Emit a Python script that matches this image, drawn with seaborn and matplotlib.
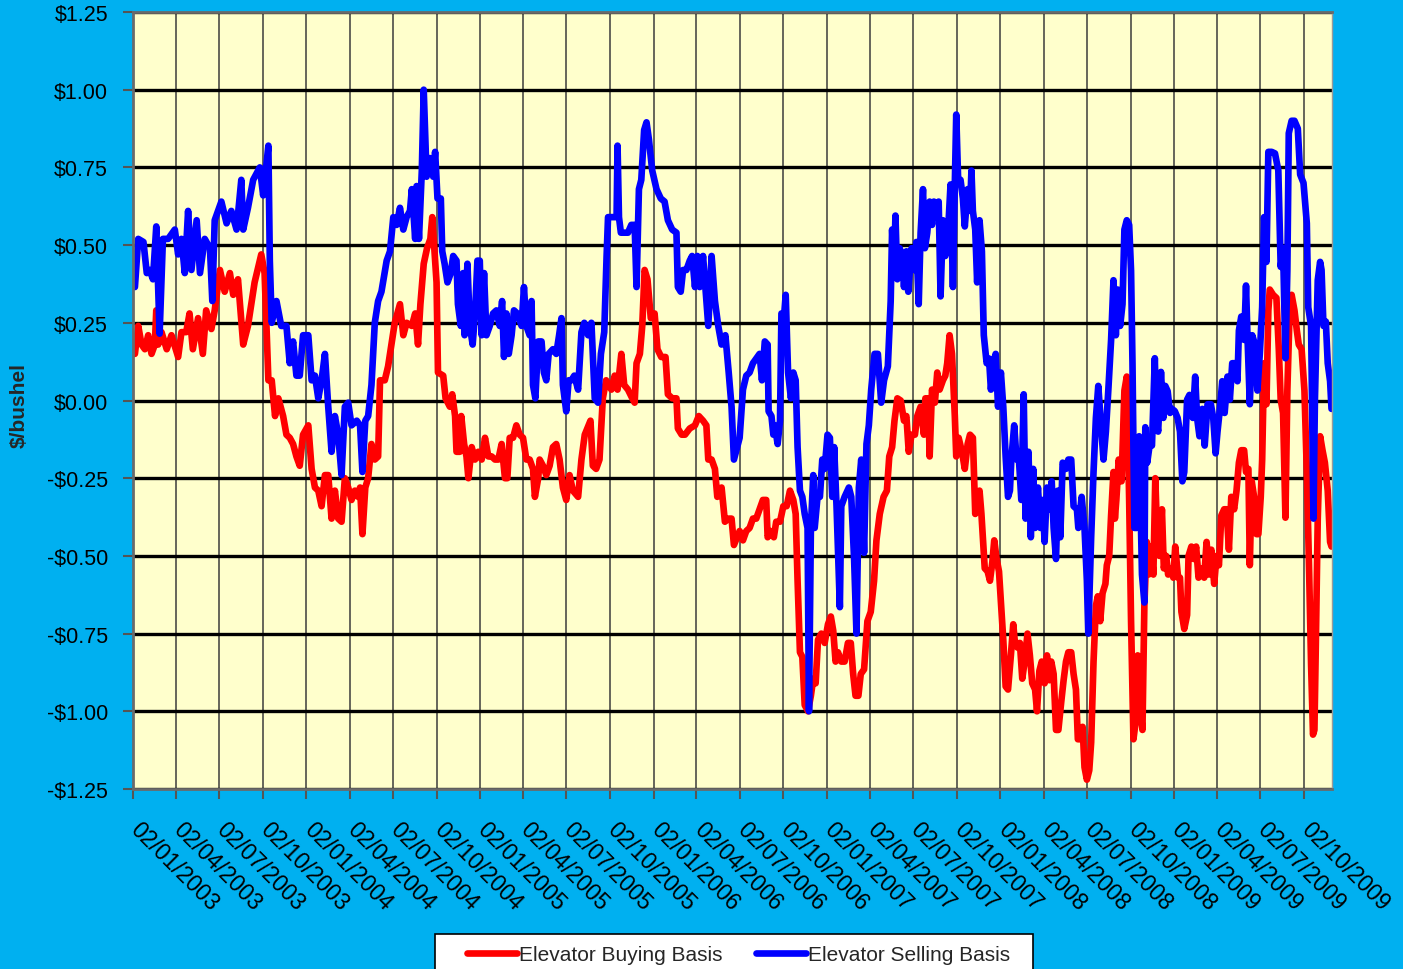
import matplotlib
matplotlib.use("Agg")
import matplotlib.pyplot as plt
from matplotlib.patches import Rectangle
from matplotlib.lines import Line2D
from matplotlib.transforms import ScaledTranslation
import seaborn as sns
import pandas as pd

# ---------------- data ----------------
series_names = ["Elevator Buying Basis", "Elevator Selling Basis"]
series_colors = ["#FF0000", "#0000FF"]

buying_dates = [
    "2003-01-06", "2003-01-13", "2003-01-20", "2003-01-27", "2003-02-03", "2003-02-10", "2003-02-17", "2003-02-20",
    "2003-02-24", "2003-03-03", "2003-03-14", "2003-03-24", "2003-04-07", "2003-04-14", "2003-04-24", "2003-05-01",
    "2003-05-08", "2003-05-19", "2003-05-29", "2003-06-05", "2003-06-16", "2003-06-23", "2003-07-04", "2003-07-14",
    "2003-07-25", "2003-08-01", "2003-08-11", "2003-08-22", "2003-09-01", "2003-09-15", "2003-09-29", "2003-10-06",
    "2003-10-14", "2003-10-21", "2003-10-28", "2003-11-04", "2003-11-14", "2003-11-21", "2003-11-28", "2003-12-05",
    "2003-12-12", "2003-12-19", "2003-12-26", "2004-01-06", "2004-01-13", "2004-01-20", "2004-01-27", "2004-02-03",
    "2004-02-10", "2004-02-17", "2004-02-24", "2004-03-02", "2004-03-09", "2004-03-16", "2004-03-23", "2004-03-30",
    "2004-04-06", "2004-04-13", "2004-04-20", "2004-04-24", "2004-04-29", "2004-05-05", "2004-05-11", "2004-05-18",
    "2004-05-25", "2004-06-01", "2004-06-05", "2004-06-15", "2004-06-22", "2004-06-29", "2004-07-06", "2004-07-17",
    "2004-07-24", "2004-07-31", "2004-08-11", "2004-08-18", "2004-08-24", "2004-08-29", "2004-09-05", "2004-09-12",
    "2004-09-19", "2004-09-23", "2004-10-02", "2004-10-05", "2004-10-16", "2004-10-21", "2004-10-30", "2004-11-04",
    "2004-11-10", "2004-11-13", "2004-11-20", "2004-11-23", "2004-11-29", "2004-12-04", "2004-12-08", "2004-12-15",
    "2004-12-22", "2004-12-29", "2005-01-05", "2005-01-12", "2005-01-19", "2005-01-26", "2005-02-02", "2005-02-09",
    "2005-02-16", "2005-02-23", "2005-02-28", "2005-03-05", "2005-03-12", "2005-03-19", "2005-03-26", "2005-04-02",
    "2005-04-09", "2005-04-16", "2005-04-23", "2005-04-27", "2005-05-04", "2005-05-07", "2005-05-14", "2005-05-21",
    "2005-05-28", "2005-06-04", "2005-06-11", "2005-06-18", "2005-06-25", "2005-07-02", "2005-07-09", "2005-07-16",
    "2005-07-27", "2005-08-03", "2005-08-10", "2005-08-22", "2005-08-27", "2005-09-03", "2005-09-10", "2005-09-17",
    "2005-09-24", "2005-10-05", "2005-10-12", "2005-10-18", "2005-10-26", "2005-11-01", "2005-11-09", "2005-11-18",
    "2005-11-23", "2005-11-27", "2005-12-04", "2005-12-09", "2005-12-14", "2005-12-20", "2005-12-27", "2006-01-04",
    "2006-01-10", "2006-01-18", "2006-01-27", "2006-02-01", "2006-02-10", "2006-02-19", "2006-02-22", "2006-03-02",
    "2006-03-09", "2006-03-19", "2006-03-30", "2006-04-07", "2006-04-16", "2006-04-23", "2006-04-27", "2006-05-04",
    "2006-05-11", "2006-05-16", "2006-05-25", "2006-06-01", "2006-06-09", "2006-06-15", "2006-06-20", "2006-07-02",
    "2006-07-09", "2006-07-16", "2006-07-23", "2006-07-30", "2006-08-06", "2006-08-13", "2006-08-20", "2006-08-27",
    "2006-08-30", "2006-09-05", "2006-09-12", "2006-09-17", "2006-09-25", "2006-10-02", "2006-10-09", "2006-10-16",
    "2006-10-23", "2006-10-28", "2006-11-01", "2006-11-06", "2006-11-11", "2006-11-16", "2006-11-23", "2006-11-29",
    "2006-12-04", "2006-12-09", "2006-12-14", "2006-12-21", "2006-12-28", "2007-01-04", "2007-01-10", "2007-01-15",
    "2007-01-20", "2007-01-25", "2007-02-01", "2007-02-08", "2007-02-15", "2007-02-21", "2007-02-26", "2007-03-03",
    "2007-03-09", "2007-03-14", "2007-03-21", "2007-03-28", "2007-04-04", "2007-04-11", "2007-04-16", "2007-04-23",
    "2007-05-01", "2007-05-08", "2007-05-13", "2007-05-19", "2007-05-24", "2007-05-30", "2007-06-06", "2007-06-13",
    "2007-06-18", "2007-06-23", "2007-06-29", "2007-07-06", "2007-07-11", "2007-07-18", "2007-07-25", "2007-07-28",
    "2007-08-03", "2007-08-06", "2007-08-11", "2007-08-17", "2007-08-22", "2007-08-27", "2007-09-03", "2007-09-08",
    "2007-09-12", "2007-09-17", "2007-09-22", "2007-09-28", "2007-10-01", "2007-10-06", "2007-10-13", "2007-10-19",
    "2007-10-25", "2007-10-30", "2007-11-05", "2007-11-10", "2007-11-14", "2007-11-19", "2007-11-23", "2007-11-30",
    "2007-12-06", "2007-12-11", "2007-12-16", "2007-12-20", "2007-12-25", "2007-12-30", "2008-01-03", "2008-01-08",
    "2008-01-13", "2008-01-18", "2008-01-24", "2008-01-29", "2008-02-01", "2008-02-07", "2008-02-12", "2008-02-17",
    "2008-02-22", "2008-02-28", "2008-03-04", "2008-03-09", "2008-03-15", "2008-03-19", "2008-03-24", "2008-03-29",
    "2008-04-04", "2008-04-09", "2008-04-14", "2008-04-18", "2008-04-23", "2008-04-28", "2008-05-03", "2008-05-09",
    "2008-05-14", "2008-05-19", "2008-05-24", "2008-05-30", "2008-06-04", "2008-06-09", "2008-06-13", "2008-06-18",
    "2008-06-23", "2008-06-27", "2008-07-02", "2008-07-07", "2008-07-11", "2008-07-16", "2008-07-21", "2008-07-25",
    "2008-07-30", "2008-08-04", "2008-08-10", "2008-08-13", "2008-08-18", "2008-08-22", "2008-08-27", "2008-08-30",
    "2008-09-02", "2008-09-07", "2008-09-13", "2008-09-19", "2008-09-24", "2008-09-29", "2008-10-03", "2008-10-08",
    "2008-10-13", "2008-10-17", "2008-10-22", "2008-10-27", "2008-10-31", "2008-11-05", "2008-11-09", "2008-11-14",
    "2008-11-19", "2008-11-23", "2008-11-28", "2008-12-02", "2008-12-07", "2008-12-11", "2008-12-16", "2008-12-20",
    "2008-12-26", "2008-12-31", "2009-01-04", "2009-01-10", "2009-01-14", "2009-01-17", "2009-01-23", "2009-01-29",
    "2009-02-01", "2009-02-07", "2009-02-12", "2009-02-17", "2009-02-22", "2009-02-28", "2009-03-06", "2009-03-11",
    "2009-03-16", "2009-03-21", "2009-03-27", "2009-04-01", "2009-04-06", "2009-04-11", "2009-04-17", "2009-04-22",
    "2009-04-27", "2009-05-02", "2009-05-08", "2009-05-13", "2009-05-18", "2009-05-23", "2009-05-29", "2009-06-02",
    "2009-06-07", "2009-06-10", "2009-06-14", "2009-06-19", "2009-06-24", "2009-06-28", "2009-07-03", "2009-07-06",
    "2009-07-10", "2009-07-15", "2009-07-19", "2009-07-22", "2009-07-29", "2009-08-05", "2009-08-10", "2009-08-14",
    "2009-08-19", "2009-08-24", "2009-08-28", "2009-09-02", "2009-09-06", "2009-09-12", "2009-09-17", "2009-09-21",
    "2009-09-27", "2009-10-03", "2009-10-08", "2009-10-13", "2009-10-17", "2009-10-21", "2009-10-24", "2009-10-27",
    "2009-10-31", "2009-11-05", "2009-11-10", "2009-11-15", "2009-11-21", "2009-11-26", "2009-11-29",
]
buying_values = [
    0.15, 0.24, 0.18, 0.165, 0.21, 0.15, 0.18, 0.29,
    0.18, 0.22, 0.165, 0.21, 0.14, 0.22, 0.22, 0.28,
    0.165, 0.265, 0.15, 0.29, 0.23, 0.29, 0.42, 0.35,
    0.41, 0.34, 0.39, 0.18, 0.24, 0.38, 0.47, 0.41,
    0.065, 0.065, -0.05, 0.007, -0.05, -0.11, -0.12, -0.14,
    -0.18, -0.21, -0.11, -0.08, -0.22, -0.28, -0.29, -0.34,
    -0.24, -0.24, -0.38, -0.29, -0.38, -0.39, -0.25, -0.28,
    -0.32, -0.29, -0.31, -0.28, -0.43, -0.28, -0.25, -0.14,
    -0.19, -0.18, 0.065, 0.065, 0.11, 0.18, 0.25, 0.31,
    0.21, 0.25, 0.24, 0.28, 0.18, 0.31, 0.44, 0.49,
    0.52, 0.59, 0.38, 0.09, 0.08, 0.007, -0.02, 0.02,
    -0.05, -0.165, -0.165, -0.05, -0.14, -0.18, -0.25, -0.15,
    -0.19, -0.165, -0.19, -0.12, -0.18, -0.18, -0.19, -0.19,
    -0.14, -0.25, -0.25, -0.12, -0.12, -0.08, -0.11, -0.12,
    -0.19, -0.19, -0.22, -0.31, -0.25, -0.19, -0.21, -0.24,
    -0.21, -0.15, -0.14, -0.19, -0.28, -0.32, -0.24, -0.29,
    -0.31, -0.19, -0.11, -0.065, -0.21, -0.22, -0.19, 0.007,
    0.065, 0.035, 0.08, 0.035, 0.15, 0.05, 0.035, 0.007,
    -0.007, 0.12, 0.15, 0.24, 0.42, 0.39, 0.265, 0.28,
    0.165, 0.14, 0.14, 0.02, 0.007, 0.007, -0.09, -0.11,
    -0.11, -0.09, -0.08, -0.05, -0.065, -0.08, -0.19, -0.19,
    -0.22, -0.31, -0.28, -0.39, -0.38, -0.38, -0.465, -0.42,
    -0.45, -0.42, -0.41, -0.38, -0.38, -0.35, -0.32, -0.32,
    -0.44, -0.42, -0.44, -0.39, -0.39, -0.34, -0.34, -0.29,
    -0.32, -0.365, -0.58, -0.81, -0.825, -0.98, -1.0, -0.95,
    -0.895, -0.91, -0.77, -0.75, -0.78, -0.72, -0.695, -0.74,
    -0.84, -0.81, -0.84, -0.84, -0.78, -0.78, -0.88, -0.95,
    -0.95, -0.88, -0.865, -0.71, -0.68, -0.58, -0.45, -0.365,
    -0.31, -0.29, -0.18, -0.15, -0.065, 0.007, 0.0, -0.065,
    -0.05, -0.165, -0.11, -0.11, -0.05, -0.02, -0.11, 0.007,
    0.007, -0.18, 0.035, -0.007, 0.09, 0.035, 0.065, 0.08,
    0.12, 0.21, 0.15, -0.05, -0.18, -0.12, -0.165, -0.22,
    -0.14, -0.11, -0.12, -0.365, -0.31, -0.29, -0.365, -0.54,
    -0.55, -0.58, -0.52, -0.45, -0.51, -0.55, -0.65, -0.77,
    -0.92, -0.93, -0.82, -0.72, -0.77, -0.795, -0.78, -0.895,
    -0.84, -0.75, -0.82, -0.91, -0.93, -1.0, -0.87, -0.84,
    -0.91, -0.82, -0.90, -0.84, -0.88, -1.06, -1.06, -0.97,
    -0.90, -0.84, -0.81, -0.81, -0.88, -0.93, -1.09, -1.09,
    -1.05, -1.18, -1.22, -1.19, -1.10, -0.84, -0.66, -0.63,
    -0.71, -0.62, -0.59, -0.53, -0.50, -0.37, -0.23, -0.38,
    -0.32, -0.19, -0.26, 0.032, 0.077, -0.32, -0.71, -1.09,
    -1.03, -0.82, -0.985, -1.06, -0.66, -0.455, -0.56, -0.47,
    -0.56, -0.25, -0.48, -0.50, -0.35, -0.54, -0.50, -0.56,
    -0.54, -0.57, -0.47, -0.57, -0.57, -0.68, -0.735, -0.69,
    -0.50, -0.47, -0.51, -0.47, -0.57, -0.54, -0.57, -0.455,
    -0.56, -0.48, -0.59, -0.50, -0.53, -0.37, -0.35, -0.35,
    -0.48, -0.31, -0.35, -0.29, -0.20, -0.16, -0.16, -0.23,
    -0.22, -0.53, -0.26, -0.31, -0.43, -0.43, -0.31, -0.19,
    0.12, -0.012, 0.29, 0.357, 0.34, 0.33, 0.165, 0.003,
    -0.04, -0.377, 0.032, 0.30, 0.34, 0.29, 0.225, 0.18,
    0.165, 0.032, -0.23, -0.56, -0.85, -1.075, -1.06, -0.78,
    -0.38, -0.115, -0.16, -0.20, -0.29, -0.455, -0.47,
]

selling_dates = [
    "2003-01-06", "2003-01-13", "2003-01-24", "2003-01-31", "2003-02-06", "2003-02-13", "2003-02-20", "2003-02-27",
    "2003-03-06", "2003-03-17", "2003-03-31", "2003-04-07", "2003-04-14", "2003-04-21", "2003-04-28", "2003-05-05",
    "2003-05-16", "2003-05-23", "2003-06-02", "2003-06-13", "2003-06-18", "2003-06-23", "2003-07-07", "2003-07-18",
    "2003-07-28", "2003-08-08", "2003-08-18", "2003-08-22", "2003-09-01", "2003-09-12", "2003-09-26", "2003-10-03",
    "2003-10-14", "2003-10-17", "2003-10-21", "2003-10-31", "2003-11-10", "2003-11-21", "2003-11-28", "2003-12-05",
    "2003-12-12", "2003-12-19", "2003-12-26", "2004-01-06", "2004-01-13", "2004-01-20", "2004-01-27", "2004-02-03",
    "2004-02-10", "2004-02-17", "2004-02-24", "2004-03-02", "2004-03-09", "2004-03-16", "2004-03-23", "2004-03-30",
    "2004-04-06", "2004-04-17", "2004-04-24", "2004-04-29", "2004-05-05", "2004-05-11", "2004-05-18", "2004-05-25",
    "2004-06-01", "2004-06-08", "2004-06-19", "2004-06-26", "2004-07-03", "2004-07-10", "2004-07-17", "2004-07-24",
    "2004-07-31", "2004-08-07", "2004-08-11", "2004-08-18", "2004-08-21", "2004-08-26", "2004-09-01", "2004-09-05",
    "2004-09-11", "2004-09-18", "2004-09-25", "2004-09-29", "2004-10-04", "2004-10-11", "2004-10-14", "2004-10-19",
    "2004-10-25", "2004-11-01", "2004-11-06", "2004-11-13", "2004-11-16", "2004-11-22", "2004-11-27", "2004-11-30",
    "2004-12-06", "2004-12-11", "2004-12-17", "2004-12-22", "2004-12-27", "2005-01-01", "2005-01-05", "2005-01-10",
    "2005-01-15", "2005-01-22", "2005-01-29", "2005-02-05", "2005-02-12", "2005-02-17", "2005-02-21", "2005-02-26",
    "2005-03-03", "2005-03-09", "2005-03-14", "2005-03-21", "2005-03-30", "2005-04-04", "2005-04-09", "2005-04-16",
    "2005-04-20", "2005-04-23", "2005-04-28", "2005-05-04", "2005-05-11", "2005-05-16", "2005-05-21", "2005-05-26",
    "2005-06-04", "2005-06-11", "2005-06-17", "2005-06-22", "2005-06-25", "2005-07-02", "2005-07-07", "2005-07-13",
    "2005-07-19", "2005-07-27", "2005-08-03", "2005-08-09", "2005-08-17", "2005-08-24", "2005-08-31", "2005-09-07",
    "2005-09-13", "2005-09-20", "2005-09-25", "2005-09-28", "2005-10-09", "2005-10-16", "2005-10-18", "2005-10-21",
    "2005-10-25", "2005-11-02", "2005-11-09", "2005-11-16", "2005-11-23", "2005-11-27", "2005-12-02", "2005-12-07",
    "2005-12-13", "2005-12-18", "2005-12-23", "2005-12-30", "2006-01-08", "2006-01-17", "2006-01-25", "2006-02-01",
    "2006-02-10", "2006-02-19", "2006-02-22", "2006-02-28", "2006-03-05", "2006-03-12", "2006-03-19", "2006-03-24",
    "2006-03-30", "2006-04-04", "2006-04-09", "2006-04-16", "2006-04-23", "2006-04-27", "2006-05-04", "2006-05-11",
    "2006-05-18", "2006-05-25", "2006-06-02", "2006-06-09", "2006-06-15", "2006-06-20", "2006-07-02", "2006-07-09",
    "2006-07-16", "2006-07-23", "2006-07-30", "2006-08-06", "2006-08-13", "2006-08-18", "2006-08-24", "2006-08-30",
    "2006-09-01", "2006-09-07", "2006-09-11", "2006-09-14", "2006-09-20", "2006-09-25", "2006-09-28", "2006-10-04",
    "2006-10-07", "2006-10-12", "2006-10-18", "2006-10-23", "2006-10-28", "2006-11-01", "2006-11-06", "2006-11-11",
    "2006-11-16", "2006-11-22", "2006-11-25", "2006-11-29", "2006-12-04", "2006-12-07", "2006-12-13", "2006-12-18",
    "2006-12-23", "2006-12-28", "2007-01-03", "2007-01-08", "2007-01-13", "2007-01-17", "2007-01-22", "2007-01-29",
    "2007-02-01", "2007-02-08", "2007-02-17", "2007-02-22", "2007-02-28", "2007-03-05", "2007-03-10", "2007-03-15",
    "2007-03-21", "2007-03-26", "2007-03-31", "2007-04-05", "2007-04-12", "2007-04-19", "2007-04-26", "2007-05-02",
    "2007-05-10", "2007-05-16", "2007-05-19", "2007-05-23", "2007-05-26", "2007-05-30", "2007-06-04", "2007-06-09",
    "2007-06-13", "2007-06-18", "2007-06-22", "2007-06-29", "2007-07-04", "2007-07-09", "2007-07-14", "2007-07-18",
    "2007-07-23", "2007-07-27", "2007-08-01", "2007-08-06", "2007-08-11", "2007-08-15", "2007-08-20", "2007-08-25",
    "2007-08-29", "2007-09-03", "2007-09-08", "2007-09-14", "2007-09-19", "2007-09-24", "2007-09-28", "2007-10-01",
    "2007-10-05", "2007-10-10", "2007-10-15", "2007-10-19", "2007-10-25", "2007-10-30", "2007-11-02", "2007-11-05",
    "2007-11-10", "2007-11-14", "2007-11-19", "2007-11-24", "2007-11-28", "2007-12-04", "2007-12-09", "2007-12-13",
    "2007-12-18", "2007-12-23", "2007-12-28", "2008-01-03", "2008-01-08", "2008-01-13", "2008-01-18", "2008-01-22",
    "2008-01-25", "2008-01-31", "2008-02-05", "2008-02-10", "2008-02-15", "2008-02-20", "2008-02-24", "2008-03-01",
    "2008-03-06", "2008-03-11", "2008-03-15", "2008-03-21", "2008-03-26", "2008-03-31", "2008-04-04", "2008-04-09",
    "2008-04-14", "2008-04-19", "2008-04-23", "2008-04-28", "2008-05-02", "2008-05-07", "2008-05-12", "2008-05-19",
    "2008-05-24", "2008-05-30", "2008-06-04", "2008-06-11", "2008-06-14", "2008-06-21", "2008-06-27", "2008-07-02",
    "2008-07-05", "2008-07-11", "2008-07-16", "2008-07-21", "2008-07-26", "2008-08-01", "2008-08-06", "2008-08-11",
    "2008-08-16", "2008-08-22", "2008-08-27", "2008-09-01", "2008-09-05", "2008-09-10", "2008-09-15", "2008-09-19",
    "2008-09-24", "2008-09-29", "2008-10-03", "2008-10-06", "2008-10-10", "2008-10-15", "2008-10-20", "2008-10-26",
    "2008-10-31", "2008-11-02", "2008-11-06", "2008-11-11", "2008-11-16", "2008-11-22", "2008-11-25", "2008-11-29",
    "2008-12-05", "2008-12-10", "2008-12-14", "2008-12-19", "2008-12-24", "2008-12-28", "2009-01-03", "2009-01-09",
    "2009-01-14", "2009-01-19", "2009-01-23", "2009-01-29", "2009-02-03", "2009-02-10", "2009-02-15", "2009-02-19",
    "2009-02-24", "2009-03-02", "2009-03-07", "2009-03-13", "2009-03-20", "2009-03-25", "2009-03-30", "2009-04-03",
    "2009-04-08", "2009-04-13", "2009-04-18", "2009-04-24", "2009-04-29", "2009-05-04", "2009-05-09", "2009-05-15",
    "2009-05-18", "2009-05-23", "2009-05-29", "2009-06-02", "2009-06-05", "2009-06-10", "2009-06-15", "2009-06-21",
    "2009-06-26", "2009-07-01", "2009-07-06", "2009-07-10", "2009-07-15", "2009-07-19", "2009-07-26", "2009-08-02",
    "2009-08-09", "2009-08-14", "2009-08-19", "2009-08-24", "2009-08-28", "2009-08-31", "2009-09-06", "2009-09-12",
    "2009-09-19", "2009-09-24", "2009-10-01", "2009-10-08", "2009-10-11", "2009-10-17", "2009-10-22", "2009-10-25",
    "2009-10-31", "2009-11-05", "2009-11-08", "2009-11-12", "2009-11-17", "2009-11-21", "2009-11-26", "2009-11-29",
]
selling_values = [
    0.365, 0.52, 0.51, 0.41, 0.42, 0.39, 0.56, 0.215,
    0.52, 0.52, 0.55, 0.47, 0.52, 0.41, 0.61, 0.42,
    0.58, 0.41, 0.52, 0.49, 0.32, 0.58, 0.64, 0.57,
    0.61, 0.55, 0.71, 0.55, 0.62, 0.71, 0.75, 0.66,
    0.82, 0.45, 0.25, 0.32, 0.24, 0.24, 0.12, 0.19,
    0.08, 0.08, 0.21, 0.21, 0.065, 0.08, 0.007, 0.065,
    0.15, -0.02, -0.165, -0.05, -0.11, -0.24, -0.02, -0.007,
    -0.08, -0.065, -0.08, -0.23, -0.065, -0.05, 0.05, 0.25,
    0.32, 0.35, 0.45, 0.48, 0.59, 0.565, 0.62, 0.55,
    0.59, 0.61, 0.68, 0.52, 0.69, 0.52, 0.74, 1.00,
    0.72, 0.78, 0.72, 0.80, 0.65, 0.65, 0.48, 0.44,
    0.38, 0.41, 0.465, 0.45, 0.31, 0.24, 0.41, 0.21,
    0.44, 0.24, 0.18, 0.28, 0.45, 0.45, 0.21, 0.41,
    0.21, 0.24, 0.28, 0.29, 0.24, 0.32, 0.14, 0.28,
    0.15, 0.21, 0.29, 0.28, 0.24, 0.365, 0.24, 0.21,
    0.32, 0.05, 0.007, 0.19, 0.19, 0.09, 0.065, 0.15,
    0.165, 0.15, 0.21, 0.265, 0.05, -0.035, 0.065, 0.065,
    0.08, 0.035, 0.22, 0.25, 0.21, 0.25, 0.007, -0.007,
    0.15, 0.22, 0.465, 0.59, 0.59, 0.59, 0.82, 0.59,
    0.54, 0.54, 0.54, 0.565, 0.565, 0.365, 0.68, 0.71,
    0.87, 0.895, 0.84, 0.74, 0.68, 0.65, 0.64, 0.58,
    0.55, 0.54, 0.365, 0.35, 0.42, 0.42, 0.45, 0.465,
    0.365, 0.465, 0.365, 0.465, 0.32, 0.24, 0.465, 0.32,
    0.24, 0.18, 0.21, 0.09, -0.02, -0.19, -0.12, 0.035,
    0.08, 0.09, 0.12, 0.135, 0.15, 0.065, 0.19, 0.18,
    -0.035, -0.05, -0.11, -0.08, -0.14, -0.065, 0.28, 0.28,
    0.34, 0.09, 0.007, 0.09, 0.065, -0.15, -0.29, -0.31,
    -0.365, -0.41, -1.0, -0.41, -0.24, -0.41, -0.31, -0.31,
    -0.19, -0.22, -0.11, -0.12, -0.31, -0.15, -0.34, -0.665,
    -0.34, -0.31, -0.28, -0.31, -0.51, -0.75, -0.28, -0.19,
    -0.49, -0.14, -0.08, 0.035, 0.15, 0.15, -0.007, 0.065,
    0.11, 0.32, 0.55, 0.41, 0.595, 0.39, 0.49, 0.465,
    0.365, 0.48, 0.35, 0.49, 0.42, 0.51, 0.31, 0.54,
    0.68, 0.49, 0.54, 0.64, 0.565, 0.64, 0.595, 0.64,
    0.335, 0.58, 0.465, 0.55, 0.695, 0.365, 0.695, 0.92,
    0.71, 0.71, 0.65, 0.56, 0.68, 0.61, 0.74, 0.61,
    0.55, 0.38, 0.58, 0.48, 0.21, 0.12, 0.135, 0.035,
    0.12, 0.15, -0.02, 0.09, -0.02, -0.18, -0.31, -0.29,
    -0.19, -0.08, -0.19, -0.19, -0.32, 0.02, -0.38, -0.165,
    -0.44, -0.22, -0.41, -0.28, -0.41, -0.32, -0.455, -0.28,
    -0.35, -0.26, -0.41, -0.51, -0.29, -0.44, -0.20, -0.22,
    -0.19, -0.19, -0.34, -0.35, -0.41, -0.31, -0.41, -0.58,
    -0.75, -0.44, -0.23, -0.056, 0.047, -0.086, -0.19, -0.10,
    0.03, 0.195, 0.387, 0.21, 0.357, 0.24, 0.31, 0.55,
    0.58, 0.565, 0.417, 0.12, -0.41, -0.41, -0.115, -0.56,
    -0.65, -0.086, -0.20, -0.145, -0.145, 0.136, -0.056, -0.10,
    0.092, -0.056, 0.047, 0.03, -0.04, -0.027, -0.034, -0.056,
    -0.10, -0.26, -0.23, 0.003, 0.018, -0.056, 0.077, -0.056,
    -0.115, -0.027, -0.145, -0.012, -0.012, -0.056, -0.17, -0.10,
    -0.027, 0.062, -0.04, 0.077, 0.003, 0.12, 0.12, 0.062,
    0.225, 0.27, 0.195, 0.37, 0.21, -0.012, 0.21, 0.18,
    0.032, 0.15, 0.30, 0.59, 0.446, 0.80, 0.80, 0.795,
    0.74, 0.43, 0.49, 0.136, 0.417, 0.86, 0.90, 0.90,
    0.875, 0.727, 0.70, 0.57, 0.30, 0.24, -0.38, 0.0,
    0.387, 0.446, 0.42, 0.24, 0.254, 0.12, 0.062, -0.027,
]

x_tick_labels = [
    "02/01/2003", "02/04/2003", "02/07/2003", "02/10/2003",
    "02/01/2004", "02/04/2004", "02/07/2004", "02/10/2004",
    "02/01/2005", "02/04/2005", "02/07/2005", "02/10/2005",
    "02/01/2006", "02/04/2006", "02/07/2006", "02/10/2006",
    "02/01/2007", "02/04/2007", "02/07/2007", "02/10/2007",
    "02/01/2008", "02/04/2008", "02/07/2008", "02/10/2008",
    "02/01/2009", "02/04/2009", "02/07/2009", "02/10/2009",
]
x_range = ["2003-01-02", "2009-11-30"]
y_ticks = [-1.25, -1.0, -0.75, -0.5, -0.25, 0.0, 0.25, 0.5, 0.75, 1.0, 1.25]
y_tick_labels = ["-$1.25", "-$1.00", "-$0.75", "-$0.50", "-$0.25", "$0.00",
                 "$0.25", "$0.50", "$0.75", "$1.00", "$1.25"]
y_label = "$/bushel"

# ---------------- build long-form frame ----------------
df = pd.concat([
    pd.DataFrame({"date": pd.to_datetime(buying_dates), "value": buying_values,
                  "series": series_names[0]}),
    pd.DataFrame({"date": pd.to_datetime(selling_dates), "value": selling_values,
                  "series": series_names[1]}),
], ignore_index=True)

# ---------------- styling ----------------
sns.set_theme(style="white")
plt.rcParams["font.family"] = ["Liberation Sans", "DejaVu Sans"]
plt.rcParams["axes.unicode_minus"] = False

W, H = 1403, 970
BG = "#00B0F0"
LW = 4.8
fig = plt.figure(figsize=(W / 100, H / 100), dpi=100, facecolor=BG)
ax = fig.add_axes([133 / W, 1 - 790 / H, (1332 - 133) / W, (790 - 13) / H])
ax.set_facecolor("#FFFFCC")

sns.lineplot(data=df, x="date", y="value", hue="series",
             hue_order=series_names, palette=dict(zip(series_names, series_colors)),
             estimator=None, linewidth=LW, legend=False, ax=ax)
for ln in ax.lines:
    ln.set_solid_joinstyle("round")
    ln.set_solid_capstyle("round")

ax.set_xlim(pd.Timestamp(x_range[0]), pd.Timestamp(x_range[1]))
ax.set_ylim(y_ticks[0], y_ticks[-1])

ax.tick_params(axis="both", which="major", direction="out", length=7,
               width=1.5, color="#555555", left=True, bottom=True)
ax.tick_params(axis="y", pad=11)
ax.tick_params(axis="x", pad=14)

ax.set_yticks(y_ticks)
ax.set_yticklabels(y_tick_labels, fontsize=15.5, color="black")
x_tick_pos = pd.to_datetime(x_tick_labels, format="%d/%m/%Y")
ax.set_xticks(x_tick_pos)
ax.set_xticklabels(x_tick_labels, rotation=-45, ha="left", va="top",
                   rotation_mode="anchor", fontsize=16.5, color="black")
shift = ScaledTranslation(9 / 100, 1 / 100, fig.dpi_scale_trans)
for tick in ax.xaxis.get_major_ticks():
    tick.label1.set_transform(tick.label1.get_transform() + shift)

ax.set_xlabel("")
ax.set_ylabel(y_label, fontsize=15, fontweight="bold",
              family=["Liberation Sans Narrow", "Liberation Sans", "DejaVu Sans"])
ax.yaxis.set_label_coords((29 - 133) / (1332 - 133), 0.495)

ax.set_axisbelow(True)
ax.yaxis.grid(True, color="black", linewidth=2.4)
ax.xaxis.grid(True, color="#3c3c3c", linewidth=1.1)

for side in ["left", "bottom", "top"]:
    ax.spines[side].set_visible(True)
    ax.spines[side].set_color("#6a6a6a")
    ax.spines[side].set_linewidth(2)
ax.spines["right"].set_visible(True)
ax.spines["right"].set_color("#9a9a9a")
ax.spines["right"].set_linewidth(1)

# legend box (white frame running off the bottom edge, as in the reference)
box = Rectangle((435 / W, -0.05), (1033 - 435) / W, 0.05 + (970 - 935) / H,
                transform=fig.transFigure, facecolor="white", edgecolor="black",
                linewidth=1.2, zorder=1)
fig.add_artist(box)
handles = [Line2D([0], [0], color=c, linewidth=LW, solid_capstyle="round")
           for c in series_colors]
leg = fig.legend(handles, series_names, loc="center left",
                 bbox_to_anchor=(467 / W, 1 - 956 / H), ncol=2, frameon=False,
                 fontsize=15, handlelength=2.4, handletextpad=0.1,
                 columnspacing=1.6, borderpad=0, borderaxespad=0)
leg.set_zorder(5)

fig.savefig("out.png", dpi=100, facecolor=BG)
